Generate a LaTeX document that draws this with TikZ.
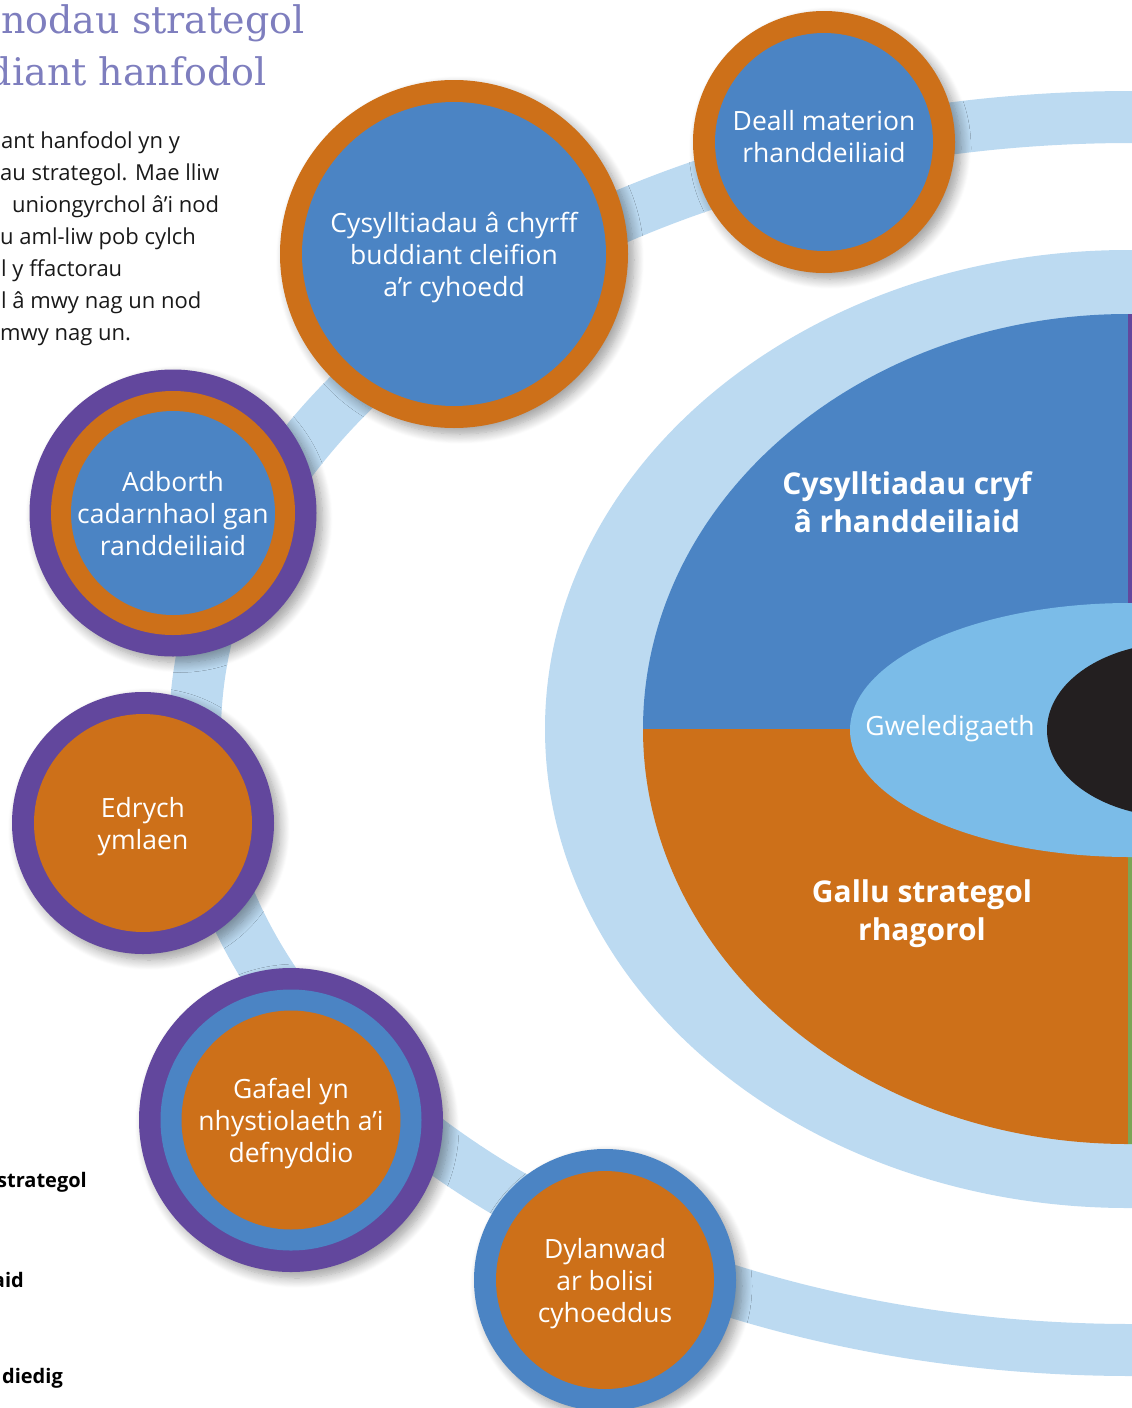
\documentclass[tikz,border=0pt]{standalone}
\usepackage{fontspec}
\setmainfont{Open Sans}
\newfontfamily\slabfont{DejaVu Serif}
\usetikzlibrary{shadows.blur}

\definecolor{aimorange}{RGB}{205,112,25}
\definecolor{aimblue}{RGB}{75,132,196}
\definecolor{aimpurple}{RGB}{98,71,157}
\definecolor{aimgreen}{RGB}{123,165,85}
\definecolor{trackblue}{RGB}{188,218,241}
\definecolor{visionblue}{RGB}{123,188,232}
\definecolor{coreblack}{RGB}{35,31,32}
\definecolor{headpurple}{RGB}{126,126,190}

\begin{document}
\begin{tikzpicture}[
    x=1pt, y=-1pt,
    aim/.style = {circle, inner sep=0pt, minimum size=2*#1, align=center, text=white, text depth=0pt,
        font=\fontsize{26.5}{32}\selectfont,
        blur shadow={shadow xshift=6pt, shadow yshift=-6pt, shadow blur radius=10pt, shadow blur steps=12, shadow opacity=38}},
    core/.style 2 args = {path picture={\fill[#1] (path picture bounding box.center) circle [radius=#2];}},
    core3/.style n args = {4}{path picture={
        \fill[#1] (path picture bounding box.center) circle [radius=#2];
        \fill[#3] (path picture bounding box.center) circle [radius=#4];}},
    heading/.style = {inner sep=0pt, text=headpurple, font=\slabfont\fontsize{38}{52}\selectfont},
    bodytext/.style = {inner sep=0pt, text=black!90, font=\fontsize{22}{32}\selectfont},
    keytext/.style = {inner sep=0pt, text=black, font=\bfseries\fontsize{20}{24}\selectfont},
    disclabel/.style = {align=center, text=white, text depth=0pt, font=\bfseries\fontsize{30}{38}\selectfont},
    vision/.style = {inner sep=0pt, text=white, text depth=0pt, font=\fontsize{26.5}{32}\selectfont}
]
\useasboundingbox (0,0) rectangle (1132,1408);
\clip (0,0) rectangle (1132,1408);

% the track that links the aims
\draw[trackblue, line width=52pt] (1132,733.5) ellipse [x radius=937, y radius=616.5];

% central disc
\fill[trackblue] (1128,729) ellipse [x radius=583, y radius=479];
\begin{scope}
    \clip (1128,729) ellipse [x radius=485, y radius=415];
    \fill[aimblue] (600,300) rectangle (1128,729);
    \fill[aimorange] (600,729) rectangle (1128,1160);
    \fill[aimpurple] (1128,300) rectangle (1140,729);
    \fill[aimgreen] (1128,729) rectangle (1140,1160);
\end{scope}
\fill[visionblue] (1130,730) ellipse [x radius=280, y radius=127];
\fill[coreblack] (1177,730) ellipse [x radius=130, y radius=87];

\node[disclabel] (links) at (907,502) {Cysylltiadau cryf\\â rhanddeiliaid};
\node[disclabel] (ability) at (922,910) {Gallu strategol\\rhagorol};
\node[vision] (vision) at (950,725) {Gweledigaeth};

% aims
\node[aim=131, fill=aimorange, core={aimblue}{109}, text depth=12pt] (deall) at (824,142) {Deall materion\\rhanddeiliaid};
\node[aim=174, fill=aimorange, core={aimblue}{152}] (cyrff) at (454,254) {Cysylltiadau â chyrff\\buddiant cleifion\\a’r cyhoedd};
\node[aim=143.5, fill=aimpurple, core3={aimorange}{122}{aimblue}{102}] (adborth) at (173,513) {Adborth\\cadarnhaol gan\\randdeiliaid};
\node[aim=131, fill=aimpurple, core={aimorange}{109}] (edrych) at (143,823) {Edrych\\ymlaen};
\node[aim=152, fill=aimpurple, core3={aimblue}{130.5}{aimorange}{109.5}] (gafael) at (291,1120) {Gafael yn\\nhystiolaeth a’i\\defnyddio};
\node[aim=131, fill=aimblue, core={aimorange}{109}] (dylanwad) at (605,1280) {Dylanwad\\ar bolisi\\cyhoeddus};

% text on the left
\node[heading, anchor=base east] (head1) at (305,33) {nodau strategol};
\node[heading, anchor=base east] (head2) at (267,85) {diant hanfodol};
\foreach \x/\txt [count=\i] in {1/ant hanfodol yn y, 0/au strategol. Mae lliw, 12/uniongyrchol â’i nod,
    0/u aml-liw pob cylch, 1/l y ffactorau, 1/l â mwy nag un nod, 0/mwy nag un.}
    \node[bodytext, anchor=base west] (intro\i) at (\x,116+32*\i) {\txt};
\node[keytext, anchor=base east] (key1) at (87,1187) {strategol};
\node[keytext, anchor=base east] (key2) at (24,1287) {aid};
\node[keytext, anchor=base east] (key3) at (63,1383) {diedig};
\end{tikzpicture}
\end{document}
